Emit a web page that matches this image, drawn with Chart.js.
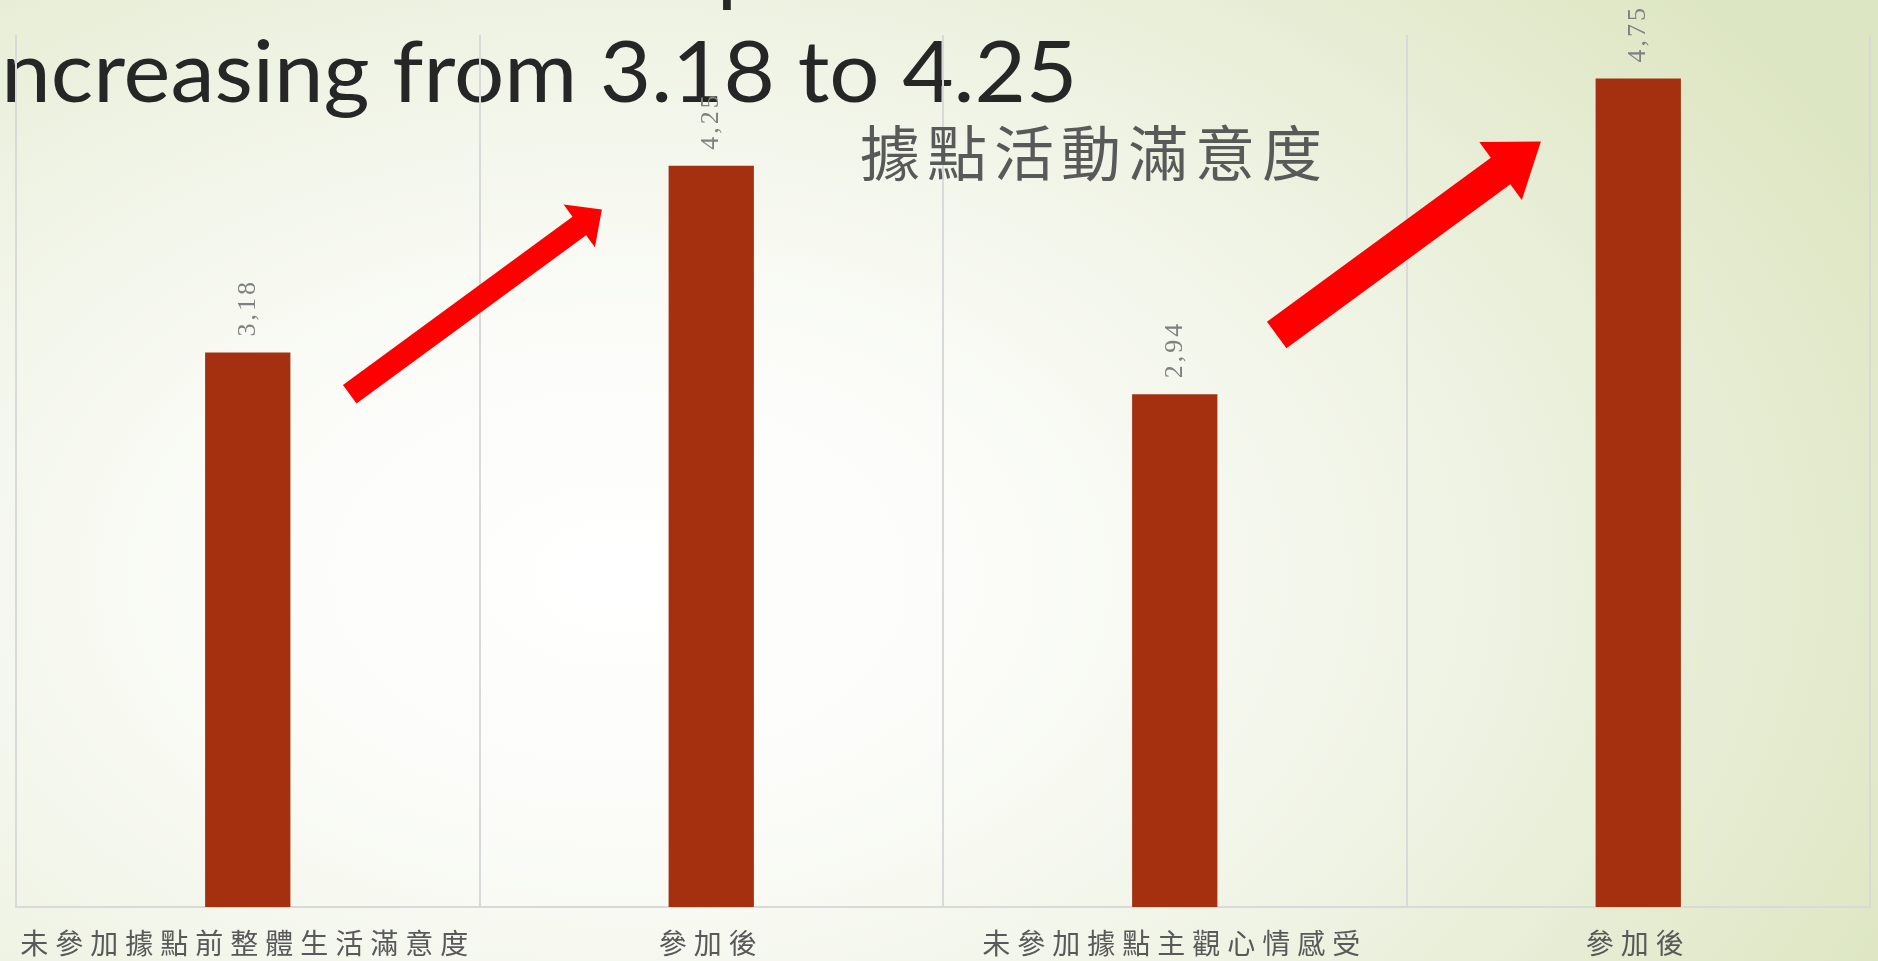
<!DOCTYPE html>
<html>
<head>
<meta charset="utf-8">
<script src="https://cdn.jsdelivr.net/npm/chart.js@4.4.1/dist/chart.umd.min.js"></script>
<style>
  html, body { margin: 0; padding: 0; overflow: hidden; }
  body {
    width: 1878px; height: 961px;
    background: radial-gradient(ellipse 75% 95% at 33% 60%, #ffffff 0%, #fbfcf8 28%, #eff3e4 60%, #dde6c2 100%);
  }
  #box { position: relative; width: 1878px; height: 961px; }
</style>
</head>
<body>
<div id="box"><canvas id="zufriedenheit-chart"></canvas></div>
<script>
// ---------------------------------------------------------------------------------------
// Daten

var labelarray_kategorie = ["未參加據點前整體生活滿意度", "參加後", "未參加據點主觀心情感受", "參加後"];
var valuearray_wert = [3.18, 4.25, 2.94, 4.75];

var chart_titel = "據點活動滿意度";
var folien_titel = "Increasing from 3.18 to 4.25";

// pfeile (in daten-koordinaten: kategorie-index / wert)
var pfeil_von_x = [0.22, 2.22];
var pfeil_von_y = [2.94, 3.28];
var pfeil_bis_x = [0.764, 2.79];
var pfeil_bis_y = [4.0, 4.39];

// ---------------------------------------------------------------------------------------
// Hilfsfunktionen

function zeichnePfeil(ctx, x0, y0, x1, y1, schaft, kopfBreite, kopfLaenge) {
  var dx = x1 - x0, dy = y1 - y0;
  var len = Math.sqrt(dx*dx + dy*dy);
  var ux = dx/len, uy = dy/len;
  var nx = -uy, ny = ux;
  var bx = x1 - ux*kopfLaenge, by = y1 - uy*kopfLaenge;
  ctx.beginPath();
  ctx.moveTo(x0 + nx*schaft/2, y0 + ny*schaft/2);
  ctx.lineTo(bx + nx*schaft/2, by + ny*schaft/2);
  ctx.lineTo(bx + nx*kopfBreite/2, by + ny*kopfBreite/2);
  ctx.lineTo(x1, y1);
  ctx.lineTo(bx - nx*kopfBreite/2, by - ny*kopfBreite/2);
  ctx.lineTo(bx - nx*schaft/2, by - ny*schaft/2);
  ctx.lineTo(x0 - nx*schaft/2, y0 - ny*schaft/2);
  ctx.closePath();
  ctx.fill();
}

var extras = {
  id: 'extras',
  beforeDraw: function(chart) {
    var ctx = chart.ctx;
    // folientitel (oben links, abgeschnitten)
    ctx.save();
    ctx.fillStyle = '#262626';
    ctx.font = '86px Lato';
    ctx.textBaseline = 'alphabetic';
    var wI = ctx.measureText('I').width;
    var wRest = ctx.measureText(folien_titel.substring(1)).width;
    var sx = 1076 / wRest;
    ctx.translate(2 - wI*sx, 102);
    ctx.scale(sx, 1);
    ctx.fillText(folien_titel, 0, 0);
    ctx.restore();
    ctx.save();
    ctx.fillStyle = '#262626';
    ctx.font = '86px Lato';
    ctx.fillText('p', 717, -5);
    ctx.restore();
    // abstand fuer x-labels
    ctx.letterSpacing = '7px';
  },
  afterDatasetsDraw: function(chart) {
    var ctx = chart.ctx;
    var meta = chart.getDatasetMeta(0);
    ctx.save();
    ctx.letterSpacing = '3px';
    ctx.font = '26px "Liberation Serif"';
    ctx.fillStyle = '#808080';
    meta.data.forEach(function(bar, i) {
      ctx.save();
      ctx.translate(bar.x, bar.y - 16);
      ctx.rotate(-Math.PI/2);
      ctx.textAlign = 'left';
      ctx.textBaseline = 'middle';
      ctx.fillText(valuearray_wert[i].toFixed(2).replace('.', ','), 0, 0);
      ctx.restore();
    });
    ctx.restore();
  },
  afterDraw: function(chart) {
    var ctx = chart.ctx;
    ctx.letterSpacing = '0px';
    // charttitel
    ctx.save();
    ctx.letterSpacing = '7px';
    ctx.font = '60px "Noto Sans CJK TC"';
    ctx.fillStyle = '#595959';
    ctx.textAlign = 'left';
    ctx.textBaseline = 'middle';
    ctx.fillText(chart_titel, 860, 153);
    ctx.restore();
    // pfeile
    var xs = chart.scales.x, ys = chart.scales.y;
    var breiten = [[23, 53, 28], [33, 72, 50]];
    ctx.save();
    ctx.fillStyle = '#ff0000';
    for (var i = 0; i < pfeil_von_x.length; i++) {
      zeichnePfeil(ctx,
        xs.getPixelForValue(pfeil_von_x[i]), ys.getPixelForValue(pfeil_von_y[i]),
        xs.getPixelForValue(pfeil_bis_x[i]), ys.getPixelForValue(pfeil_bis_y[i]),
        breiten[i][0], breiten[i][1], breiten[i][2]);
    }
    ctx.restore();
  }
};

// ---------------------------------------------------------------------------------------
// Chart

new Chart(document.getElementById("zufriedenheit-chart"), {
    type: 'bar',
    data: {
      labels: labelarray_kategorie,
      datasets: [
        {
          label: "滿意度",
          backgroundColor: "#a5300f",
          borderWidth: 0,
          barPercentage: 0.184,
          categoryPercentage: 1,
          data: valuearray_wert
        }
      ]
    },
    options: {
      responsive: true,
      maintainAspectRatio: false,
      animation: false,
      layout: {padding: {left: 16, right: 8, top: 35, bottom: 0}},
      scales: {
        x: {
          grid: {display: true, color: '#d9d9d9', lineWidth: 2, drawTicks: false, offset: true},
          border: {display: true, color: '#d9d9d9', width: 2},
          ticks: {
            font: {size: 28, family: '"Noto Sans CJK TC"'},
            color: '#595959',
            padding: 20,
            maxRotation: 0,
            autoSkip: false
          },
          afterFit: function(scale) { scale.height = 54; }
        },
        y: {
          display: false,
          min: 0,
          max: 5,
          grid: {display: false}
        }
      },
      plugins: {
        legend: {display: false},
        tooltip: {enabled: false}
      }
    },
    plugins: [extras]
});
</script>
</body>
</html>
